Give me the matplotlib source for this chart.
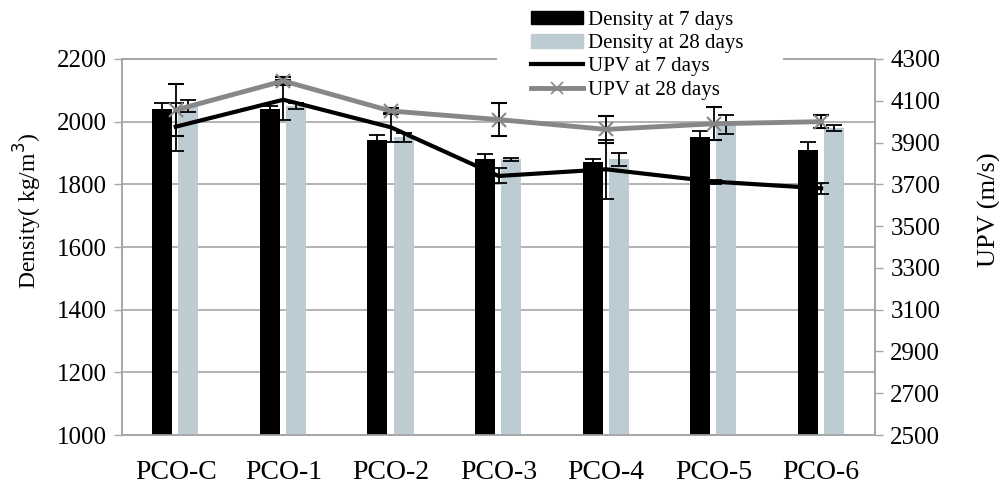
import matplotlib
matplotlib.use("Agg")
import matplotlib.pyplot as plt
import numpy as np
from matplotlib.patches import Rectangle
from matplotlib.lines import Line2D

plt.rcParams['font.family'] = ['Liberation Serif', 'DejaVu Serif']

categories = ["PCO-C", "PCO-1", "PCO-2", "PCO-3", "PCO-4", "PCO-5", "PCO-6"]

density_7 = [2040, 2040, 1940, 1880, 1870, 1950, 1910]
density_7_err = [19, 10, 16, 17, 10, 21, 26]
density_28 = [2050, 2050, 1950, 1880, 1880, 1990, 1980]
density_28_err = [19, 11, 15, 5, 20, 30, 9]

upv_7 = [3976, 4105, 3973, 3740, 3772, 3713, 3681]
upv_7_err = [115, 95, 69, 36, 142, 10, 25]
upv_28 = [4056, 4195, 4051, 4010, 3963, 3990, 4000]
upv_28_err = [124, 20, 15, 77, 63, 79, 32]

density_ticks = [1000, 1200, 1400, 1600, 1800, 2000, 2200]
upv_ticks = [2500, 2700, 2900, 3100, 3300, 3500, 3700, 3900, 4100, 4300]

GRID = "#a6a6a6"
LIGHT = "#bdcbd2"
UPV28_COLOR = "#878787"

fig = plt.figure(figsize=(9.99, 4.88), dpi=100)
ax = fig.add_axes([0.1221, 0.1086, 0.7538, 0.7705])
ax2 = ax.twinx()

x = np.arange(len(categories))
bw = 0.186
err_kw = dict(ecolor="black", elinewidth=1.3, capsize=5.5, capthick=1.3)

ax.bar(x - 0.126, density_7, bw, color="black", yerr=density_7_err,
       error_kw=err_kw, zorder=3)
ax.bar(x + 0.118, density_28, bw, color=LIGHT, yerr=density_28_err,
       error_kw=err_kw, zorder=3)

ax.set_ylim(1000, 2200)
ax.set_yticks(density_ticks)
ax.set_xlim(-0.5, len(categories) - 0.5)
ax.set_xticks(x)
ax.set_xticklabels(categories, fontsize=20)
ax.tick_params(axis="x", length=0, pad=18)
ax.tick_params(axis="y", direction="out", length=6, color=GRID, width=1,
               labelsize=18, pad=5)
ax.yaxis.grid(True, color=GRID, linewidth=1.2, zorder=0)
ax.set_axisbelow(True)
for s in ax.spines.values():
    s.set_color(GRID)
    s.set_linewidth(1.2)
ax.set_ylabel("Density( kg/m$^3$)", fontsize=17)
ax.yaxis.set_label_coords(-0.104, 0.595)

ax2.errorbar(x, upv_7, yerr=upv_7_err, color="black", lw=3, fmt="-",
             ecolor="black", elinewidth=1.3, capsize=5.5, capthick=1.3,
             zorder=4)
ax2.errorbar(x, upv_28, yerr=upv_28_err, color=UPV28_COLOR, lw=3.5, fmt="-",
             marker="x", ms=10, mew=1.5, mec=UPV28_COLOR,
             ecolor="black", elinewidth=1.3, capsize=5.5, capthick=1.3,
             zorder=4)
ax2.set_ylim(2500, 4300)
ax2.set_yticks(upv_ticks)
ax2.tick_params(axis="y", direction="out", length=6, color=GRID, width=1,
                labelsize=18, pad=5)
for s in ax2.spines.values():
    s.set_color(GRID)
    s.set_linewidth(1.2)
ax2.set_ylabel("UPV (m/s)", fontsize=19, rotation=90)
ax2.yaxis.set_label_coords(1.136, 0.598)

# white legend area, wider than the legend entries, masking the top border
ax2.add_patch(Rectangle((497 / 999, 1 - 100 / 488), 286 / 999, 96 / 488,
                        transform=fig.transFigure, facecolor="white",
                        edgecolor="none", clip_on=False, zorder=10))

handles = [
    Rectangle((0, 0), 1, 1, color="black"),
    Rectangle((0, 0), 1, 1, color=LIGHT),
    Line2D([], [], color="black", lw=3),
    Line2D([], [], color=UPV28_COLOR, lw=3.5, marker="x", ms=9, mew=1.2),
]
labels = ["Density at 7 days", "Density at 28 days", "UPV at 7 days", "UPV at 28 days"]
leg = ax2.legend(handles, labels, loc="upper left",
                 bbox_to_anchor=(528 / 999, 1 - 8 / 488),
                 bbox_transform=fig.transFigure, frameon=True,
                 fontsize=15, handlelength=2.5, handleheight=0.6,
                 handletextpad=0.25, labelspacing=0.2, borderpad=0.15,
                 borderaxespad=0, fancybox=False)
leg.get_frame().set_facecolor("white")
leg.get_frame().set_edgecolor("none")
leg.get_frame().set_alpha(1)
leg.set_zorder(20)

fig.savefig("out.png", dpi=100)
